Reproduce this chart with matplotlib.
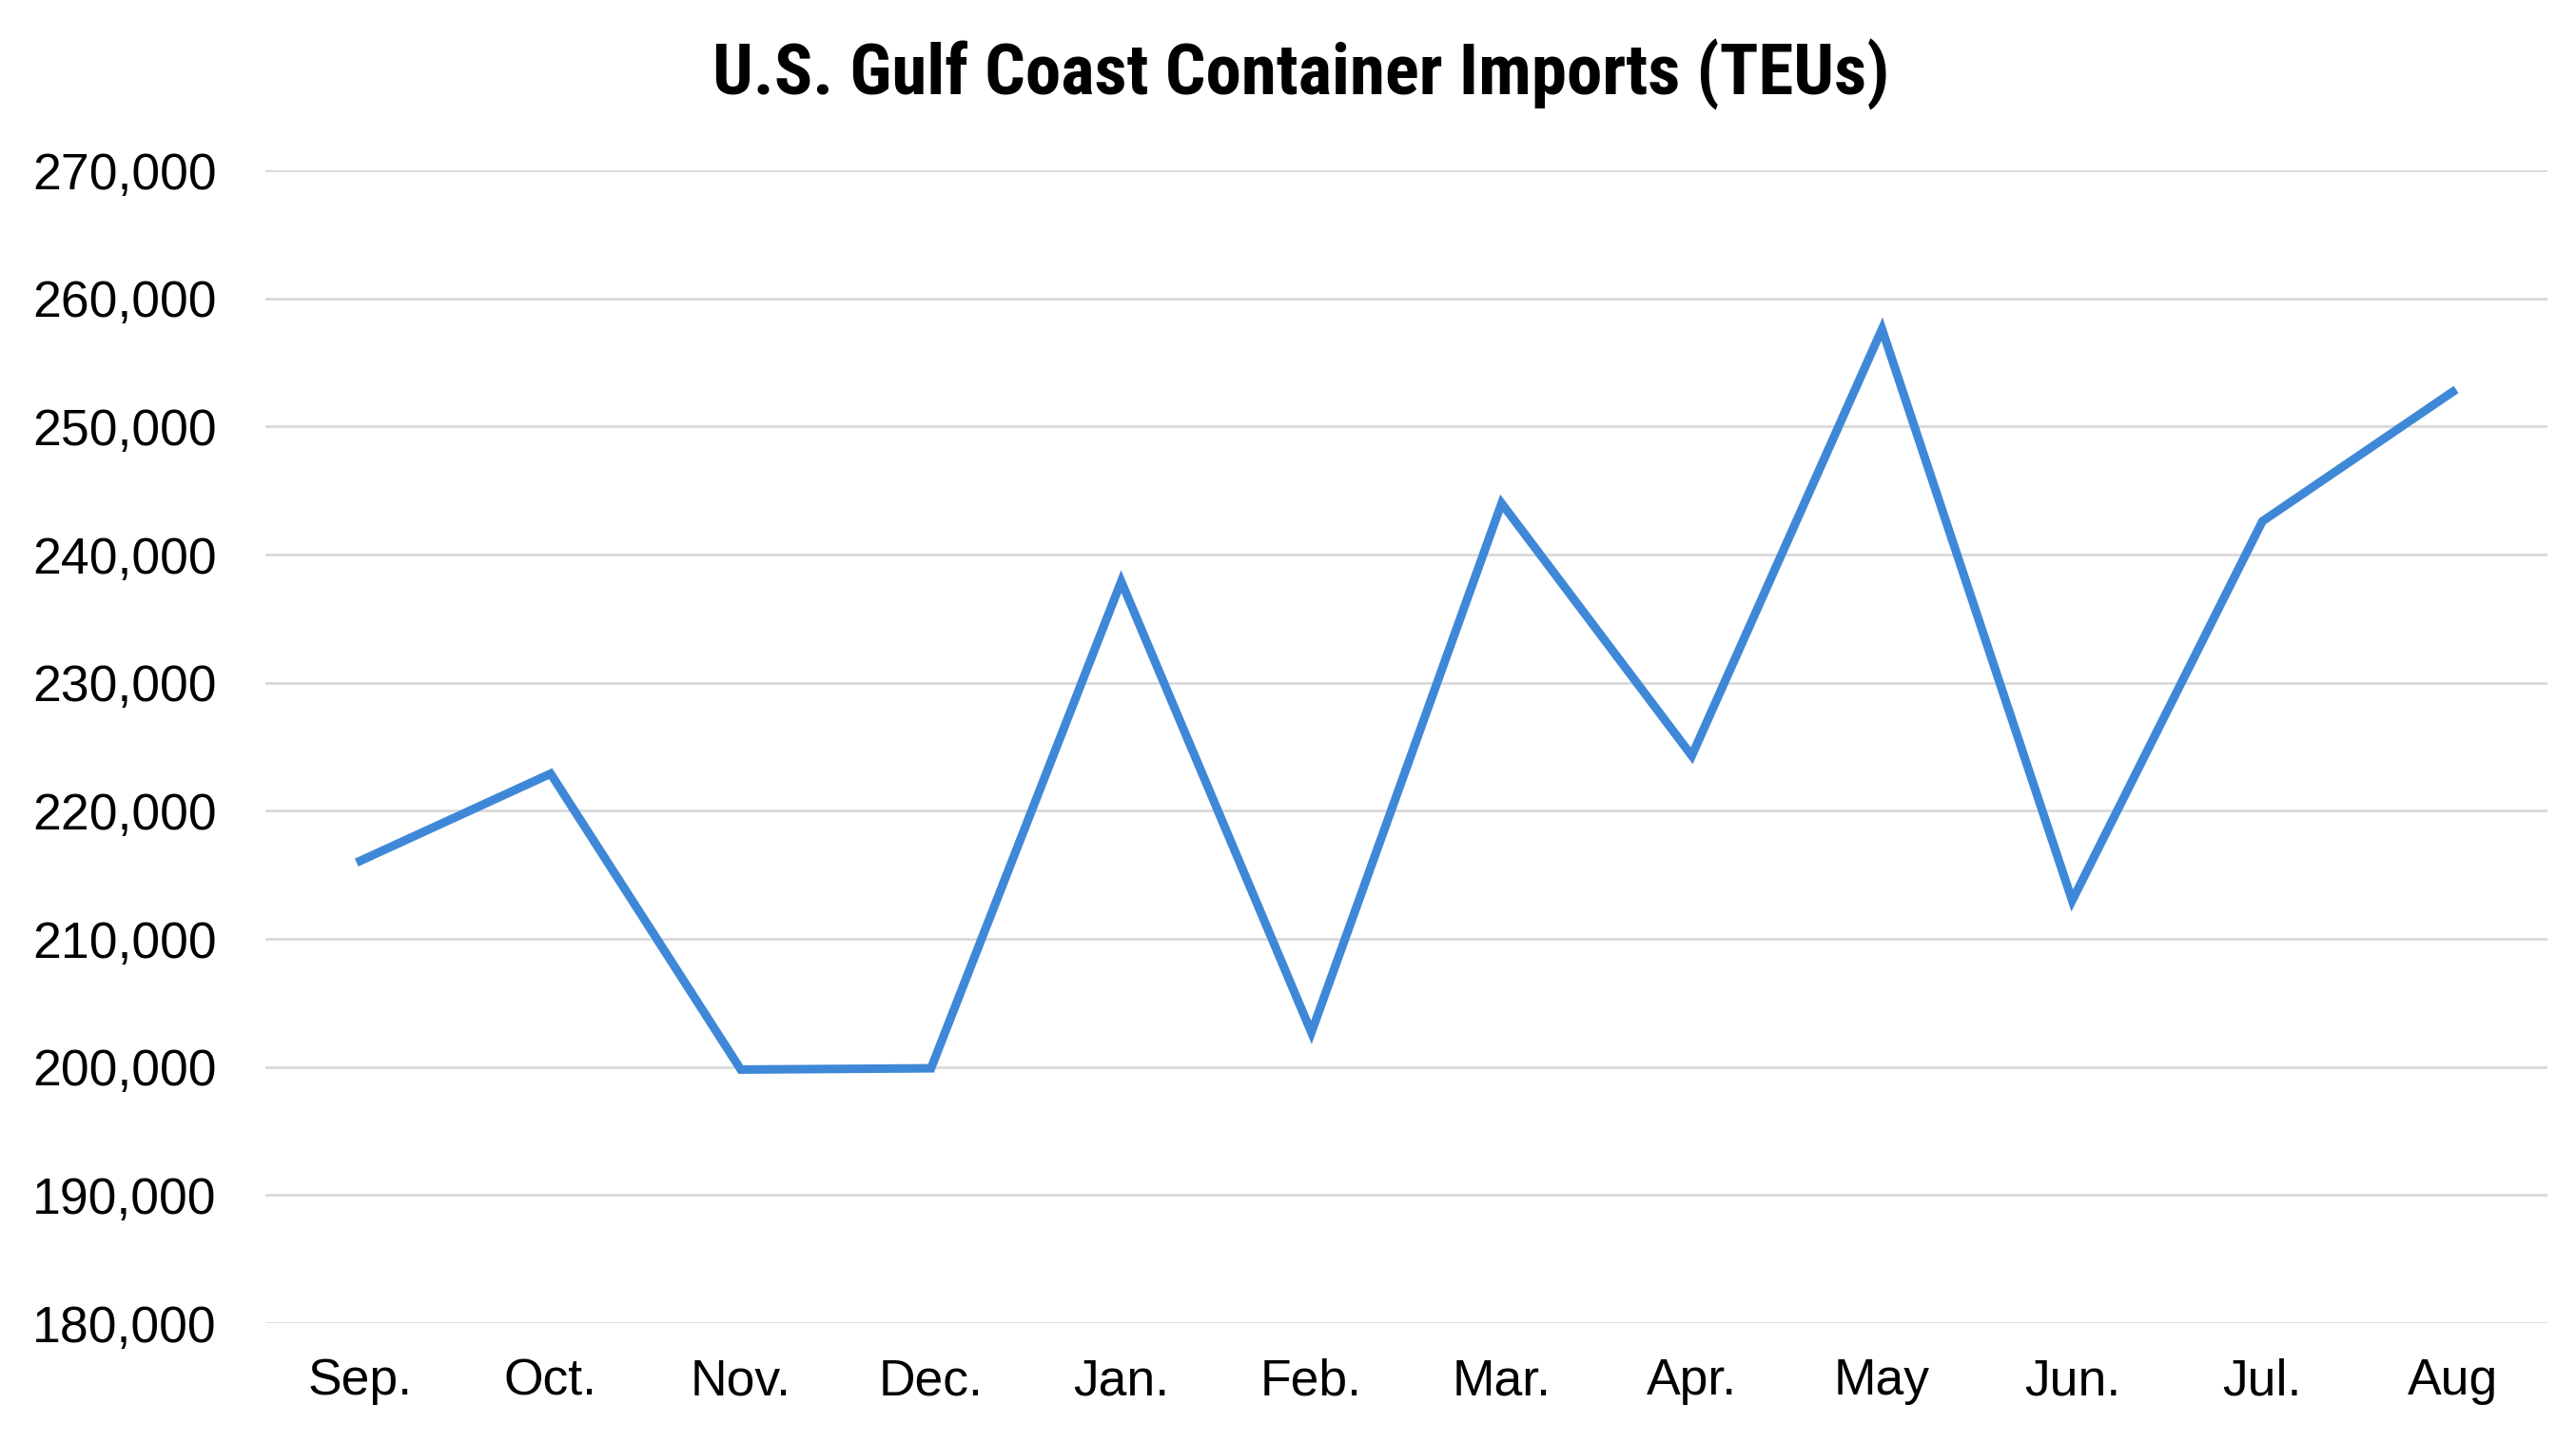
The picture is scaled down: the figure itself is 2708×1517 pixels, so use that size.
import matplotlib.pyplot as plt
from matplotlib import font_manager
from matplotlib.ticker import FuncFormatter

# Data
months = ['Sep.', 'Oct.', 'Nov.', 'Dec.', 'Jan.', 'Feb.',
          'Mar.', 'Apr.', 'May', 'Jun.', 'Jul.', 'Aug']
imports_teu = [216100, 222900, 199800, 199900, 237900, 202700,
               244000, 224300, 257600, 213000, 242600, 252700]

y_ticks = [180000, 190000, 200000, 210000, 220000, 230000, 240000, 250000, 260000, 270000]

# pick a narrow bold face for the title if one is installed
installed = {f.name for f in font_manager.fontManager.ttflist}
title_font = 'DejaVu Sans'
for name in ['Roboto Condensed', 'Liberation Sans Narrow', 'Arial Narrow', 'Roboto']:
    if name in installed:
        title_font = name
        break

fig = plt.figure(figsize=(27.08, 15.17), dpi=100)
ax = fig.add_axes([0.103, 0.083, 0.886, 0.799])

x = list(range(len(months)))
ax.plot(x, imports_teu, color='#3F88D8', linewidth=6.5, solid_joinstyle='miter', zorder=3)

ax.set_xlim(-0.5, len(months) - 0.5)
ax.set_ylim(y_ticks[0], y_ticks[-1])
ax.set_yticks(y_ticks)
ax.yaxis.set_major_formatter(FuncFormatter(lambda v, p: f'{int(v):,}'))
ax.set_xticks(x)
ax.set_xticklabels(months)

ax.grid(axis='y', color='#D9D9D9', linewidth=2)
ax.set_axisbelow(True)
for s in ax.spines.values():
    s.set_visible(False)
ax.tick_params(axis='both', length=0, labelsize=38.5, labelcolor='black')
ax.tick_params(axis='y', pad=37)
ax.tick_params(axis='x', pad=26)
for lab in ax.get_xticklabels() + ax.get_yticklabels():
    lab.set_family(['Liberation Sans', 'DejaVu Sans'])

title_kw = dict(fontsize=54, fontweight='bold')
if title_font == 'Roboto':
    title_kw.update(fontstretch='condensed', fontsize=50)
fig.text(0.505, 0.948, 'U.S. Gulf Coast Container Imports (TEUs)', ha='center', va='center',
         family=[title_font, 'DejaVu Sans'], **title_kw)

fig.savefig('out.png', dpi=100, facecolor='white')
